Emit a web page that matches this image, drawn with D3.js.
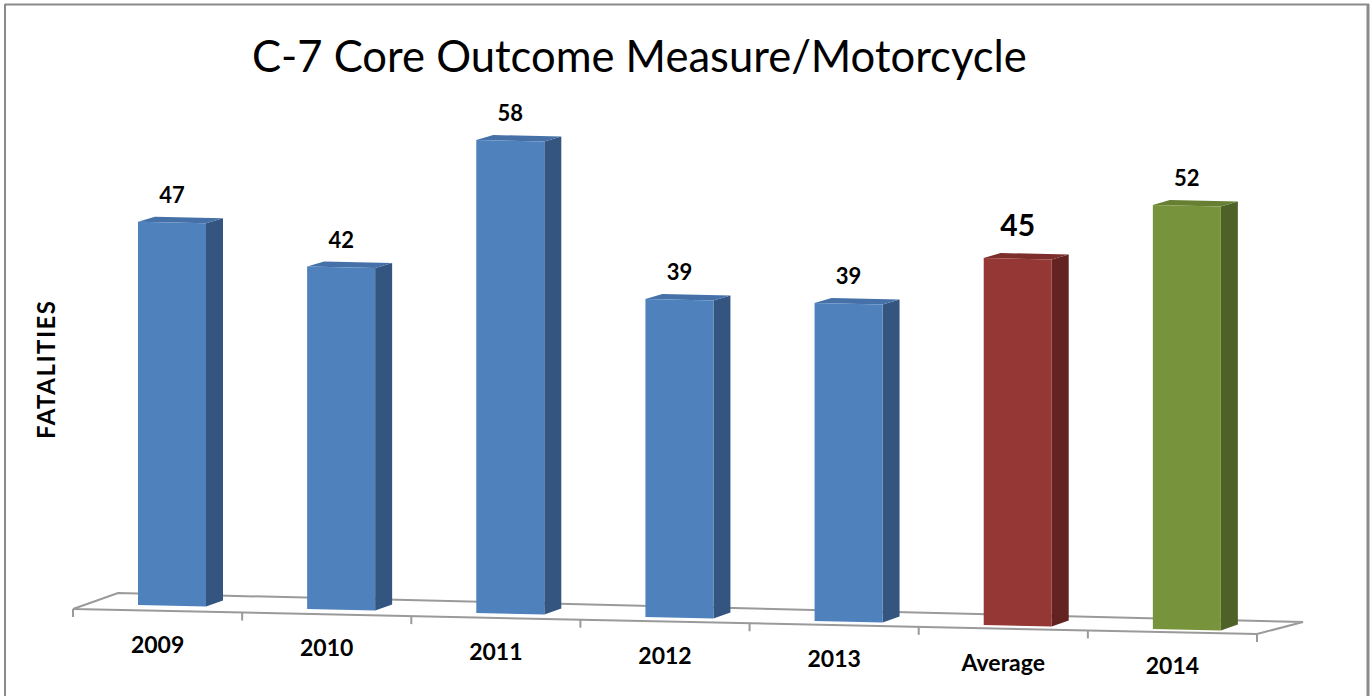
<!DOCTYPE html>
<html>
<head>
<meta charset="utf-8">
<script src="https://cdn.jsdelivr.net/npm/d3@7"></script>
<style>
  html, body { margin: 0; padding: 0; background: #fff; }
  svg { display: block; }
</style>
</head>
<body>
<div id="chart"></div>
<script>
// ---- data ----
const categories = ["2009", "2010", "2011", "2012", "2013", "Average", "2014"];
const values = [47, 42, 58, 39, 39, 45, 52];
const seriesKind = ["year", "year", "year", "year", "year", "average", "target"];
const titleText = "C-7 Core Outcome Measure/Motorcycle";
const yAxisTitle = "FATALITIES";

// ---- styles ----
const W = 1371, H = 696;
const palette = {
  year:    { front: "#4F81BD", side: "#33557F", top: "#4571A8" },
  average: { front: "#953735", side: "#622321", top: "#7D2D2B" },
  target:  { front: "#77933C", side: "#4E6227", top: "#667F33" }
};
const fontFamily = "Lato, 'Open Sans', sans-serif";

const svg = d3.select("#chart").append("svg")
  .attr("width", W).attr("height", H);

// page border
svg.append("line").attr("x1", 5).attr("x2", 1369).attr("y1", 4.5).attr("y2", 4.5)
  .attr("stroke", "#8a8a8a").attr("stroke-width", 2);
svg.append("line").attr("x1", 5).attr("x2", 5).attr("y1", 4).attr("y2", H)
  .attr("stroke", "#8a8a8a").attr("stroke-width", 2);
svg.append("line").attr("x1", 1368).attr("x2", 1368).attr("y1", 4).attr("y2", H)
  .attr("stroke", "#8a8a8a").attr("stroke-width", 3);

// ---- scales ----
const x = d3.scaleBand().domain(categories).range([73, 1257]).padding(0);
const h = d3.scaleLinear().domain([0, 58]).range([0, 473]);

// floor geometry (perspective)
const frontL = [73, 609], frontR = [1257, 634];
const backL = [118, 593], backR = [1303, 622];
const frontY = px => frontL[1] + (frontR[1] - frontL[1]) * (px - frontL[0]) / (frontR[0] - frontL[0]);
const barBaseSlope = 0.0236;
const barOffset = 65, barW = 68, depthX = 17, depthY = -5;
const baseY = px => 605 + barBaseSlope * (px - 138);

// floor
const floorG = svg.append("g").attr("stroke", "#9a9a9a").attr("stroke-width", 2).attr("fill", "none");
floorG.append("path").attr("d", d3.line()([frontL, frontR, backR, backL, frontL]));
// ticks on the front edge
const tickXs = categories.map(c => x(c)).concat([x.range()[1]]);
floorG.selectAll("line.tick").data(tickXs).join("line")
  .attr("x1", d => d).attr("x2", d => d)
  .attr("y1", d => frontY(d)).attr("y2", d => frontY(d) + 8);

// bars
const data = categories.map((c, i) => ({ c, v: values[i], kind: seriesKind[i] }));
const bars = svg.append("g").selectAll("g").data(data).join("g");

function geom(d) {
  const xl = x(d.c) + barOffset, xr = xl + barW;
  const bl = baseY(xl), br = baseY(xr);
  const tl = bl - h(d.v), tr = br - h(d.v);
  return { xl, xr, bl, br, tl, tr };
}
bars.append("path") // side
  .attr("fill", d => palette[d.kind].side)
  .attr("d", d => { const g = geom(d);
    return d3.line()([[g.xr, g.tr], [g.xr + depthX, g.tr + depthY], [g.xr + depthX, g.br + depthY - 1], [g.xr, g.br]]) + "Z"; });
bars.append("path") // top
  .attr("fill", d => palette[d.kind].top)
  .attr("d", d => { const g = geom(d);
    return d3.line()([[g.xl, g.tl], [g.xl + depthX, g.tl + depthY], [g.xr + depthX, g.tr + depthY], [g.xr, g.tr]]) + "Z"; });
bars.append("path") // front
  .attr("fill", d => palette[d.kind].front)
  .attr("d", d => { const g = geom(d);
    return d3.line()([[g.xl, g.tl], [g.xr, g.tr], [g.xr, g.br], [g.xl, g.bl]]) + "Z"; });

// value labels
bars.append("text")
  .attr("x", d => { const g = geom(d); return (g.xl + g.xr) / 2; })
  .attr("y", d => { const g = geom(d); return (g.tl + g.tr) / 2 - (d.kind === "average" ? 23 : 19.5); })
  .attr("text-anchor", "middle")
  .attr("font-family", fontFamily).attr("font-weight", "bold")
  .attr("font-size", d => d.kind === "average" ? 30 : 22)
  .attr("fill", "#000")
  .text(d => d.v);

// category labels
svg.append("g").selectAll("text").data(categories).join("text")
  .attr("x", c => x(c) + x.bandwidth() / 2)
  .attr("y", c => frontY(x(c) + x.bandwidth() / 2) + 42)
  .attr("text-anchor", "middle")
  .attr("font-family", fontFamily).attr("font-weight", "bold")
  .attr("font-size", 23).attr("fill", "#000")
  .text(c => c);

// axis title
svg.append("text")
  .attr("transform", "translate(55,370) rotate(-90)")
  .attr("text-anchor", "middle")
  .attr("font-family", fontFamily).attr("font-weight", "bold")
  .attr("font-size", 24).attr("fill", "#000")
  .attr("textLength", 138).attr("lengthAdjust", "spacing")
  .text(yAxisTitle);

// chart title
const title = svg.append("text")
  .attr("x", 252).attr("y", 72)
  .attr("font-family", fontFamily).attr("font-size", 42).attr("fill", "#000")
  .text(titleText);
const tw = title.node().getComputedTextLength();
title.attr("font-size", 42 * 775 / tw);
</script>
</body>
</html>
